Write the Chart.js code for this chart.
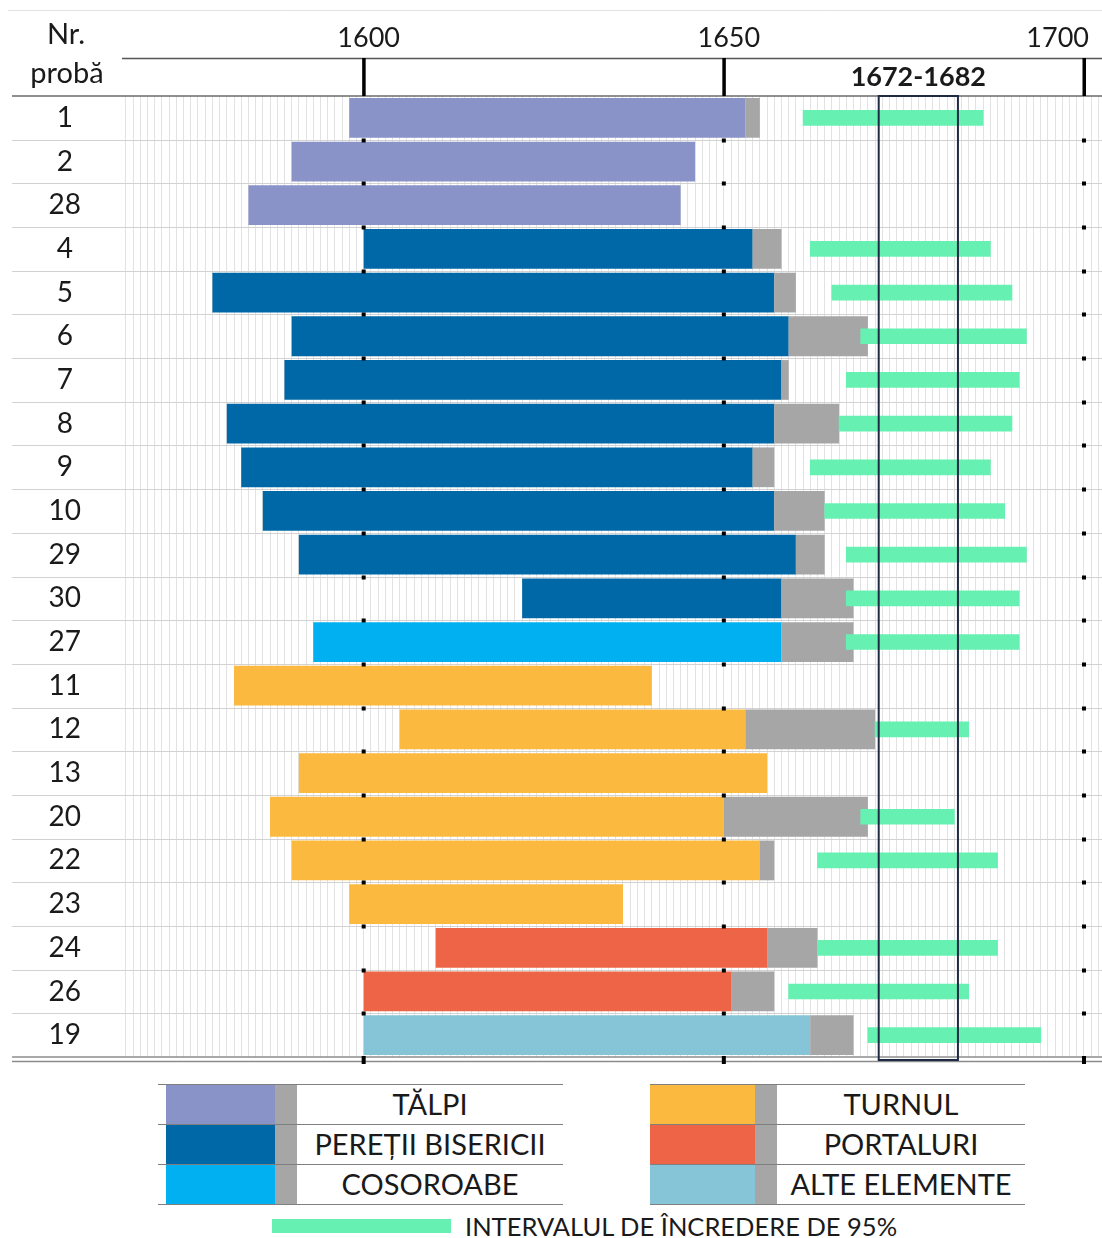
<!DOCTYPE html>
<html>
<head>
<meta charset="utf-8">
<script src="https://cdn.jsdelivr.net/npm/chart.js@4.4.1/dist/chart.umd.min.js"></script>
<style>
  body { margin: 0; background: #fff; width: 1102px; height: 1238px; position: relative; overflow: hidden;
         font-family: Lato, sans-serif; color: #1a1a1a; }
  #wrap { position: absolute; left: 0; top: 0; width: 1102px; height: 1080px; }
  .rule { position: absolute; height: 1px; background: #7f7f7f; }
  .sw { position: absolute; height: 39px; }
  .lbl { position: absolute; height: 40px; line-height: 40px; text-align: center; font-size: 29px; white-space: nowrap; }
  .ci { position: absolute; left: 465px; top: 1211px; height: 30px; line-height: 30px; font-size: 25.5px; white-space: nowrap; }
</style>
</head>
<body>
<div id="wrap"><canvas id="chart"></canvas></div>
<div id="legend"></div>
<script>
// probele, in ordinea din grafic
const samples = ['1', '2', '28', '4', '5', '6', '7', '8', '9', '10', '29', '30', '27', '11', '12', '13', '20', '22', '23', '24', '26', '19'];
const elements = ['TĂLPI', 'TĂLPI', 'TĂLPI',
  'PEREȚII BISERICII', 'PEREȚII BISERICII', 'PEREȚII BISERICII', 'PEREȚII BISERICII', 'PEREȚII BISERICII',
  'PEREȚII BISERICII', 'PEREȚII BISERICII', 'PEREȚII BISERICII', 'PEREȚII BISERICII',
  'COSOROABE',
  'TURNUL', 'TURNUL', 'TURNUL', 'TURNUL', 'TURNUL', 'TURNUL',
  'PORTALURI', 'PORTALURI',
  'ALTE ELEMENTE'];

// primul inel, ultimul inel de duramen, ultimul inel de alburn
const firstYear = [1598, 1590, 1584, 1600, 1579, 1590, 1589, 1581, 1583, 1586, 1591, 1622, 1593, 1582, 1605, 1591, 1587, 1590, 1598, 1610, 1600, 1600];
const lastYear = [1653, 1646, 1644, 1654, 1657, 1659, 1658, 1657, 1654, 1657, 1660, 1658, 1658, 1640, 1653, 1656, 1650, 1655, 1636, 1656, 1651, 1662];
const sapwoodYear = [1655, null, null, 1658, 1660, 1670, 1659, 1666, 1657, 1664, 1664, 1668, 1668, null, 1671, null, 1670, 1657, null, 1663, 1657, 1668];

// intervalul de incredere de 95% pentru anul doborarii
const ciFrom = [1661, null, null, 1662, 1665, 1669, 1667, 1666, 1662, 1664, 1667, 1667, 1667, null, 1671, null, 1669, 1663, null, 1663, 1659, 1670];
const ciTo = [1686, null, null, 1687, 1690, 1692, 1691, 1690, 1687, 1689, 1692, 1691, 1691, null, 1684, null, 1682, 1688, null, 1688, 1684, 1694];

const fellingRange = [1672, 1682];
const majorYears = [1600, 1650, 1700];

const groupNames = ['TĂLPI', 'PEREȚII BISERICII', 'COSOROABE', 'TURNUL', 'PORTALURI', 'ALTE ELEMENTE'];
const groupColors = ['#8a93c7', '#0068a6', '#00b0f0', '#fcb940', '#ee6446', '#86c5d8'];
const sapColor = '#a6a6a6';
const ciColor = '#66f0b2';
const ciLabel = 'INTERVALUL DE ÎNCREDERE DE 95%';

const barData = samples.map((s, i) => [firstYear[i], lastYear[i]]);
const sapData = samples.map((s, i) => sapwoodYear[i] ? [lastYear[i], sapwoodYear[i]] : null);
const ciData = samples.map((s, i) => ciFrom[i] ? [ciFrom[i], ciTo[i]] : null);
const barColors = elements.map(e => groupColors[groupNames.indexOf(e)]);

function hline(ctx, x0, x1, y) {
    ctx.beginPath();
    ctx.moveTo(x0, y);
    ctx.lineTo(x1, y);
    ctx.stroke();
}

function rowBounds(y) {
    const out = [];
    for (let i = 1; i < samples.length; i++) {
        out.push(Math.round((y.getPixelForValue(i - 1) + y.getPixelForValue(i)) / 2));
    }
    return out;
}

// linii, capul tabelului si chenarul intervalului
const frame = {
    id: 'frame',
    beforeDatasetsDraw(chart) {
        const { ctx, chartArea: a, scales: { y } } = chart;
        ctx.save();
        ctx.strokeStyle = '#d2d2d2';
        ctx.lineWidth = 1;
        rowBounds(y).forEach(yy => hline(ctx, 12, a.right, yy + 0.5));
        ctx.restore();
    },
    afterDatasetsDraw(chart) {
        const { ctx, chartArea: a, scales: { x, y } } = chart;
        ctx.save();

        ctx.strokeStyle = '#e2e2e2';
        ctx.lineWidth = 1;
        hline(ctx, 8, a.right, 10.5);
        ctx.strokeStyle = '#555';
        ctx.lineWidth = 1.5;
        hline(ctx, a.left, a.right, 58.5);
        ctx.strokeStyle = '#6a6a6a';
        hline(ctx, 12, a.right, a.top);
        ctx.strokeStyle = '#8c8c8c';
        ctx.lineWidth = 1.5;
        hline(ctx, 12, a.right, a.bottom);
        hline(ctx, 12, a.right, a.bottom + 4.5);

        const bounds = rowBounds(y);
        ctx.font = '27px Lato';
        ctx.textAlign = 'center';
        ctx.textBaseline = 'middle';
        majorYears.forEach(v => {
            const px = x.getPixelForValue(v);
            ctx.fillStyle = '#000';
            ctx.fillRect(px - 1.5, 58, 3.5, a.top - 58);
            bounds.forEach(yy => ctx.fillRect(px - 2, yy - 1.5, 4, 4));
            ctx.fillRect(px - 2, a.bottom - 1, 4, 8);
            // anul, tinut in interiorul marginii din dreapta
            const label = String(v);
            const half = ctx.measureText(label).width / 2;
            ctx.fillStyle = '#1a1a1a';
            ctx.fillText(label, Math.min(px + 5, a.right - half - 13), 38);
        });

        const x0 = x.getPixelForValue(fellingRange[0] - 0.5);
        const x1 = x.getPixelForValue(fellingRange[1] + 0.5);
        ctx.strokeStyle = '#1f2b44';
        ctx.lineWidth = 2;
        ctx.strokeRect(x0, a.top, x1 - x0, a.bottom + 3 - a.top);

        ctx.fillStyle = '#1a1a1a';
        ctx.font = 'bold 27px Lato';
        ctx.fillText(fellingRange.join('-'), (x0 + x1) / 2, 77);
        ctx.font = '29px Lato';
        ctx.fillText('Nr.', 66, 35);
        ctx.fillText('probă', 67, 74);
        ctx.restore();
    }
};

new Chart(document.getElementById('chart'), {
    type: 'bar',
    data: {
        labels: samples,
        datasets: [
            { data: ciData, backgroundColor: ciColor, barThickness: 15, order: 0 },
            { data: sapData, backgroundColor: sapColor, order: 1 },
            { data: barData, backgroundColor: barColors, order: 2 }
        ]
    },
    options: {
        indexAxis: 'y',
        responsive: true,
        maintainAspectRatio: false,
        animation: false,
        layout: { padding: { top: 0, right: 0, bottom: 23, left: 0 } },
        datasets: {
            bar: { grouped: false, barPercentage: 0.91, categoryPercentage: 1, borderWidth: 0 }
        },
        plugins: {
            legend: { display: false },
            tooltip: { enabled: false }
        },
        scales: {
            x: {
                position: 'top',
                min: 1566.45,
                max: 1702.5,
                afterFit: s => { s.height = 96; },
                grid: { color: '#e2e2e2', drawTicks: false },
                border: { display: false },
                // one grid line per year; the year labels are drawn by the frame plugin
                ticks: { display: false, stepSize: 1, includeBounds: false, autoSkip: false }
            },
            y: {
                afterFit: s => { s.width = 122; },
                grid: { color: 'rgba(0,0,0,0)', drawTicks: true, tickLength: 41, tickColor: 'rgba(0,0,0,0)' },
                border: { display: false },
                ticks: {
                    crossAlign: 'center',
                    padding: 0,
                    color: '#1a1a1a',
                    font: { family: 'Lato', size: 28 }
                }
            }
        }
    },
    plugins: [frame]
});

// legenda
const legend = document.getElementById('legend');
function put(cls, css, text) {
    const d = document.createElement('div');
    d.className = cls;
    Object.assign(d.style, css);
    if (text) d.textContent = text;
    legend.appendChild(d);
}
const blocks = [
    { left: 158, right: 563, sw: 166, swW: 109, groups: [0, 1, 2] },
    { left: 650, right: 1025, sw: 650, swW: 105, groups: [3, 4, 5] }
];
blocks.forEach(b => {
    for (let k = 0; k <= 3; k++) {
        put('rule', { left: b.left + 'px', top: (1084 + 40 * k) + 'px', width: (b.right - b.left) + 'px' });
    }
    b.groups.forEach((g, k) => {
        const top = 1085 + 40 * k;
        put('sw', { left: b.sw + 'px', top: top + 'px', width: b.swW + 'px', background: groupColors[g] });
        put('sw', { left: (b.sw + b.swW) + 'px', top: top + 'px', width: '22px', background: sapColor });
        put('lbl', { left: (b.sw + b.swW + 22) + 'px', top: (top - 1) + 'px', width: (b.right - b.sw - b.swW - 22) + 'px' }, groupNames[g]);
    });
});
put('sw', { left: '272px', top: '1219px', width: '179px', height: '14px', background: ciColor });
put('ci', {}, ciLabel);
</script>
</body>
</html>
